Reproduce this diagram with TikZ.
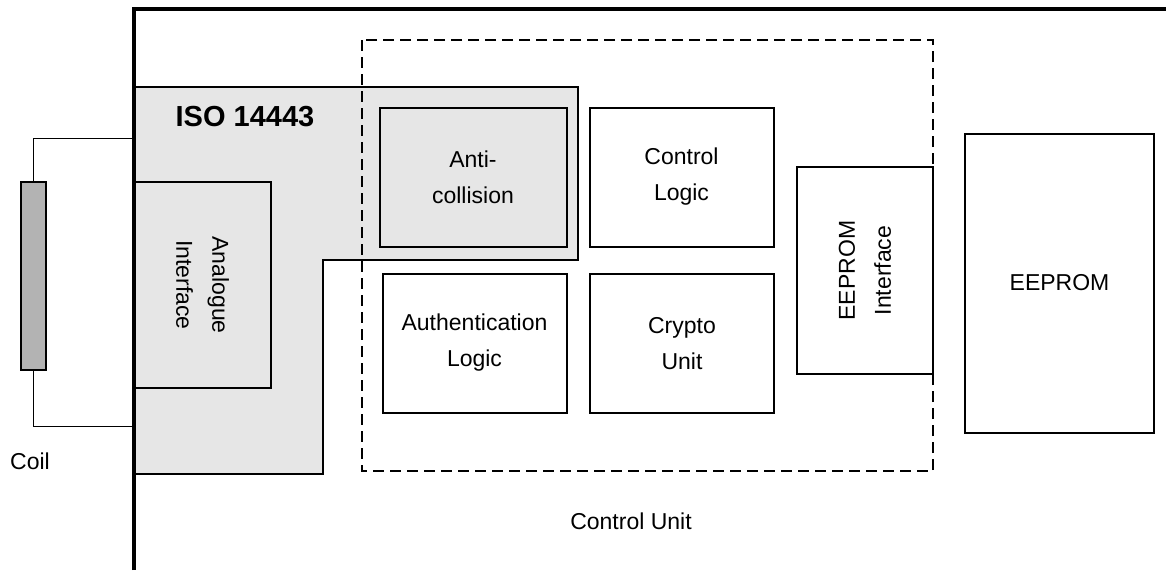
\documentclass[tikz,border=0pt]{standalone}
\usepackage{fontspec}
\setmainfont{Liberation Sans}
\definecolor{isogray}{HTML}{E6E6E6}
\definecolor{coilgray}{HTML}{B3B3B3}
\begin{document}
\begin{tikzpicture}[x=1pt, y=-1pt,
	txt/.style={font=\fontsize{23}{36}\selectfont, align=center},
	block/.style={txt, draw, line width=2pt, inner sep=0pt},
	wire/.style={line width=1pt}]
	\useasboundingbox (0,0) rectangle (1166,570);
	% ISO 14443 area
	\draw[fill=isogray, line width=1.5pt] (134,87) -- (578,87) -- (578,260) -- (323,260) -- (323,474) -- (134,474) -- cycle;
	\node[font=\bfseries\fontsize{29}{34}\selectfont] at (245,117) (iso) {ISO 14443};
	% control unit
	\draw[dash pattern=on 11pt off 6pt, line width=1.5pt] (362,40) rectangle (933,471);
	\node[txt] at (631,521) (cu) {Control Unit};
	\node[block, fill=isogray, minimum width=187pt, minimum height=139pt] at (473,177) (anti) {Anti-\\collision};
	\node[block, minimum width=184pt, minimum height=139pt] at (681.5,177) (ctrl) {Control\\Logic};
	\node[block, minimum width=184pt, minimum height=139pt] at (474.5,343) (auth) {Authentication\\Logic};
	\node[block, minimum width=184pt, minimum height=139pt] at (682,343.5) (crypto) {Crypto\\Unit};
	\node[block, rotate=90, minimum width=207pt, minimum height=136pt] at (865,270.5) (eif) {EEPROM\\Interface};
	\node[block, minimum width=189pt, minimum height=299pt] at (1059.5,283) (eeprom) {EEPROM};
	\node[block, fill=isogray, rotate=-90, minimum width=206pt, minimum height=137pt] at (202.5,285) (ana) {Analogue\\Interface};
	% coil
	\node[draw, fill=coilgray, line width=2pt, minimum width=25pt, minimum height=188pt, inner sep=0pt] at (33.5,276) (coil) {};
	\node[txt] at (30,461) (coillbl) {Coil};
	\coordinate (ftop) at (134,138);
	\coordinate (fbot) at (134,426);
	\draw[wire] (coil.north) |- (ftop);
	\draw[wire] (coil.south) |- (fbot);
	% card frame
	\draw[line width=3.5pt] (134,570) -- (134,9) -- (1166,9);
\end{tikzpicture}
\end{document}
